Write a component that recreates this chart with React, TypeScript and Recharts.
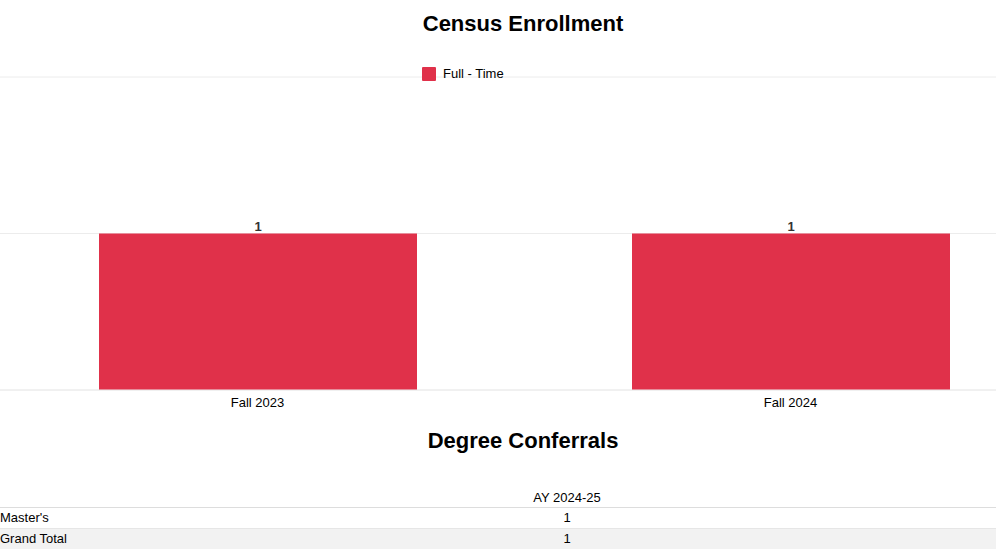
import { BarChart, Bar, XAxis, YAxis, CartesianGrid, LabelList } from "recharts";

const terms = ["Fall 2023", "Fall 2024"];
const fullTime = [1, 1];
const yTicks = [0, 1, 2];

const degreeYears = ["AY 2024-25"];
const degreeRows = ["Master's", "Grand Total"];
const degreeCounts = [[1], [1]];

const RED = "#e0314a";
const FONT = "Arial, 'Liberation Sans', sans-serif";

const data = terms.map((t, i) => ({ term: t, fullTime: fullTime[i] }));

function App() {
  return (
    <div
      style={{
        position: "absolute",
        left: 0,
        top: 0,
        width: 996,
        height: 549,
        overflow: "hidden",
        background: "#fff",
        fontFamily: FONT,
        color: "#000",
      }}
    >
      <div
        style={{
          position: "absolute",
          top: 10,
          left: -2,
          width: 1050,
          textAlign: "center",
          fontSize: 22,
          fontWeight: "bold",
          lineHeight: "28px",
        }}
      >
        Census Enrollment
      </div>

      <div
        style={{
          position: "absolute",
          top: 66,
          left: 422,
          display: "flex",
          alignItems: "center",
          fontSize: 13,
          zIndex: 2,
        }}
      >
        <span style={{ width: 14, height: 14, background: RED, display: "inline-block", marginRight: 7, borderRadius: 1 }} />
        <span>Full - Time</span>
      </div>

      <div style={{ position: "absolute", left: -9, top: 0 }}>
        <BarChart
          width={1066}
          height={420}
          data={data}
          margin={{ top: 77, right: 0, left: 0, bottom: 0 }}
        >
          <CartesianGrid vertical={false} stroke="#ececec" />
          <YAxis hide domain={[0, 2]} ticks={yTicks} />
          <XAxis
            dataKey="term"
            height={30}
            axisLine={{ stroke: "#ececec" }}
            tickLine={false}
            tick={{ fontSize: 13, fill: "#000", fontFamily: FONT }}
          />
          <Bar dataKey="fullTime" name="Full - Time" fill={RED} barSize={318} isAnimationActive={false}>
            <LabelList
              dataKey="fullTime"
              position="top"
              offset={3}
              fill="#333"
              fontSize={13}
              fontWeight="bold"
              fontFamily={FONT}
            />
          </Bar>
        </BarChart>
      </div>

      <div
        style={{
          position: "absolute",
          top: 427,
          left: -2,
          width: 1050,
          textAlign: "center",
          fontSize: 22,
          fontWeight: "bold",
          lineHeight: "28px",
        }}
      >
        Degree Conferrals
      </div>

      <table
        style={{
          position: "absolute",
          top: 488,
          left: 0,
          width: 996,
          borderCollapse: "collapse",
          fontSize: 13,
          fontFamily: FONT,
        }}
      >
        <thead>
          <tr style={{ height: 19 }}>
            <th style={{ width: 138, padding: 0, borderBottom: "1px solid #ddd" }} />
            {degreeYears.map((y) => (
              <th key={y} style={{ padding: 0, fontWeight: "normal", textAlign: "center", borderBottom: "1px solid #ddd" }}>
                {y}
              </th>
            ))}
          </tr>
        </thead>
        <tbody>
          {degreeRows.map((r, i) => (
            <tr key={r} style={{ height: 21, background: i % 2 === 1 ? "#f2f2f2" : "#fff" }}>
              <td style={{ padding: 0, textAlign: "left", borderBottom: "1px solid #e6e6e6" }}>{r}</td>
              {degreeCounts[i].map((v, j) => (
                <td key={j} style={{ padding: 0, textAlign: "center", borderBottom: "1px solid #e6e6e6" }}>
                  {v}
                </td>
              ))}
            </tr>
          ))}
        </tbody>
      </table>
    </div>
  );
}

export default App;
